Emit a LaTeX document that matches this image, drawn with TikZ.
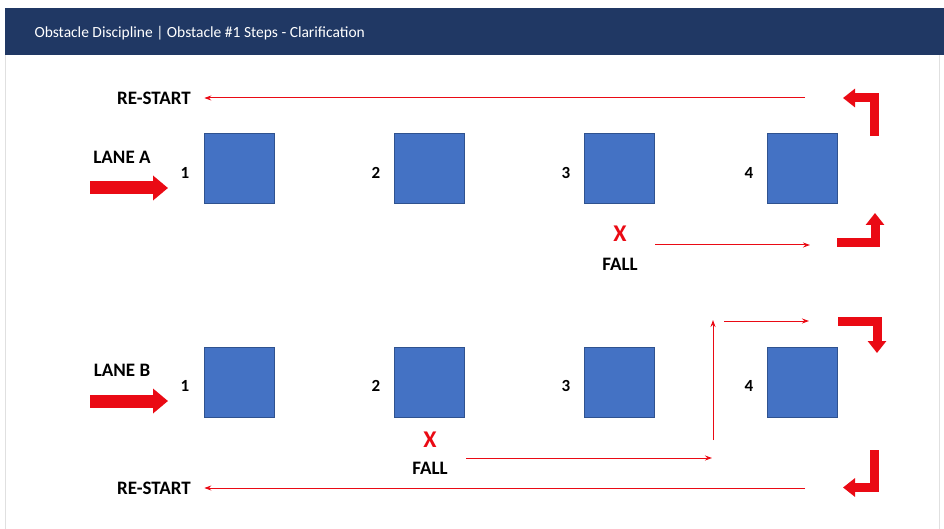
\documentclass[tikz,border=0pt]{standalone}
\usepackage{fontspec}
\setmainfont{Carlito}
\usetikzlibrary{arrows.meta}
\definecolor{navy}{HTML}{203864}
\definecolor{boxblue}{HTML}{4472C4}
\definecolor{boxedge}{HTML}{2F528F}
\definecolor{arrowred}{HTML}{EA0A14}
\tikzset{
  block/.style={fill=boxblue,draw=boxedge,line width=0.6pt,minimum size=70pt,inner sep=0pt},
  num/.style={font=\fontsize{17}{19}\selectfont\bfseries},
  lbl/.style={font=\fontsize{19}{22}\selectfont\bfseries},
  cross/.style={text=arrowred,font=\fontsize{24}{26}\selectfont\bfseries},
  thinarrow/.style={draw=arrowred,line width=1pt,-{Stealth[length=7pt,width=5pt]}},
  fatarrow/.style={draw=arrowred,line width=13pt,-{Triangle[length=15pt,width=24pt]}},
  elbow/.style={draw=arrowred,line width=9pt,miter limit=10,-{Triangle[length=12pt,width=18pt]}}
}
\begin{document}
\begin{tikzpicture}[x=1pt,y=-1pt]
\useasboundingbox (0,0) rectangle (944,529);
% slide frame and title bar
\draw[black!12,line width=1pt] (5,55) -- (5,529);
\draw[black!12,line width=1pt] (939,55) -- (939,529);
\fill[navy] (5,8) rectangle (944,55);
\node (title) [anchor=west,text=white,font=\fontsize{15.5}{18}\selectfont] at (31,33)
  {Obstacle Discipline | Obstacle \#1 Steps - Clarification};

% the blocks of both lanes
\foreach \n/\x/\nx in {1/239/185,2/429/376,3/619/566,4/802/749}{
  \node[block] (a\n) at (\x,168) {};
  \node[num] (na\n) at (\nx,173) {\n};
  \node[block] (b\n) at (\x,382) {};
  \node[num] (nb\n) at (\nx,386) {\n};
}

% lane A
\node[lbl] (laneA) at (122,157) {LANE A};
\coordinate (inA) at (90,188);
\draw[fatarrow] (inA) -- (168,188);
\node[lbl] (restartA) at (154,98) {RE-START};
\coordinate (backA) at (805,98);
\draw[thinarrow] (backA) -- ([xshift=10pt]restartA.east);
\node[cross] (xA) at (620,234) {X};
\node[lbl] (fallA) at (620,264) {FALL};
\coordinate (fA) at (655,245);
\coordinate (fAend) at (810,245);
\draw[thinarrow] (fA) -- (fAend);
\draw[elbow] (874.5,136) |- (843,98);
\draw[elbow] (837,242.5) -| (875,213);

% lane B
\node[lbl] (laneB) at (122,370) {LANE B};
\coordinate (inB) at (90,401);
\draw[fatarrow] (inB) -- (168,401);
\node[lbl] (restartB) at (154,488) {RE-START};
\coordinate (backB) at (805,488);
\draw[thinarrow] (backB) -- ([xshift=10pt]restartB.east);
\node[cross] (xB) at (430,440) {X};
\node[lbl] (fallB) at (430,468) {FALL};
\coordinate (fB) at (466,458);
\coordinate (fBend) at (712,458);
\draw[thinarrow] (fB) -- (fBend);
\coordinate (upB) at (713,440);
\coordinate (upBend) at (713,320);
\draw[thinarrow] (upB) -- (upBend);
\coordinate (overB) at (724,321);
\coordinate (overBend) at (809,321);
\draw[thinarrow] (overB) -- (overBend);
\draw[elbow] (838,321.5) -| (877,353);
\draw[elbow] (874.5,450) |- (843,487.5);
\end{tikzpicture}
\end{document}
